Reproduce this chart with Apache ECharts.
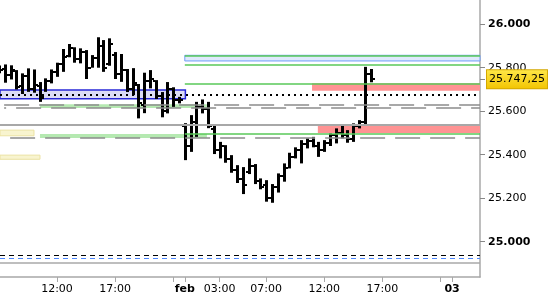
<!DOCTYPE html>
<html><head><meta charset="utf-8">
<script src="https://cdn.jsdelivr.net/npm/echarts@6/dist/echarts.min.js"></script>
<style>html,body{margin:0;padding:0;background:#fff}#c{width:550px;height:300px}</style>
</head><body><div id="c"></div>
<script>
// 30-minute bar slots (slot 0 = 12:00 of day 1)
const slots  = [-10,-9,-8,-7,-6,-5,-4,-3,-2,-1,0,1,2,3,4,5,6,7,8,9,10,11,12,13,14,15,16,17,18,19,20,21,22,23,24,25,26,27,28,29,30,31,32,33,34,35,36,37,38,39,40,41,42,43,44,45,46,47,48,49,50,51,52,53,54];
const opens  = [25800,25795,25765,25785,25715,25760,25700,25715,25665,25740,25780,25815,25855,25890,25840,25870,25800,25845,25900,25815,25860,25770,25790,25700,25720,25630,25740,25740,25670,25600,25700,25650,25530,25440,25550,25620,25610,25520,25420,25440,25380,25330,25290,25320,25350,25280,25260,25200,25250,25300,25340,25390,25420,25450,25465,25440,25420,25455,25490,25500,25490,25470,25530,25550,25770];
const highs  = [25810,25815,25811,25789,25774,25797,25792,25734,25751,25792,25823,25886,25909,25894,25889,25881,25858,25940,25927,25935,25872,25863,25794,25798,25725,25777,25789,25743,25688,25734,25710,25666,25545,25582,25643,25654,25643,25532,25459,25444,25398,25352,25343,25383,25357,25291,25283,25265,25314,25360,25409,25434,25467,25475,25482,25459,25467,25498,25521,25532,25513,25544,25559,25804,25794];
const lows   = [25775,25731,25746,25700,25679,25689,25685,25643,25689,25728,25758,25781,25848,25823,25820,25748,25800,25800,25781,25809,25748,25735,25688,25674,25567,25591,25705,25656,25572,25590,25620,25636,25375,25413,25482,25590,25522,25403,25383,25363,25317,25270,25219,25311,25265,25241,25184,25179,25226,25276,25337,25383,25360,25429,25434,25390,25413,25440,25452,25475,25455,25459,25521,25541,25733];
const closes = [25790,25765,25790,25710,25760,25700,25720,25660,25740,25780,25815,25850,25890,25840,25870,25800,25845,25900,25800,25910,25770,25790,25700,25730,25640,25740,25750,25670,25600,25700,25650,25650,25440,25550,25620,25610,25530,25420,25440,25380,25330,25290,25260,25350,25280,25250,25200,25250,25300,25340,25390,25420,25450,25465,25440,25420,25455,25490,25500,25490,25470,25530,25550,25770,25747.25];

const xTickSlots  = [0,10,20,22,28,36,46,56,66,68];
const xLabelSlots = [0,10,22,28,36,46,56,68];
const xLabels     = ['12:00','17:00','feb','03:00','07:00','12:00','17:00','03'];
const yTickValues = [25000,25200,25400,25600,25800,26000];
const lastPrice = 25747.25;

// price levels / zones
const blueZoneLeft   = [25657, 25697];
const lightBlueZone  = [25831, 25857];
const greenBandUpper = [25615, 25632];
const greenBandLower = [25477, 25495];
const yellowZone1    = [25487, 25513];
const yellowZone2    = [25379, 25398];
const redZoneUpper   = [25694, 25728];
const redZoneLower   = [25500, 25533];
const dottedLevel    = 25674;
const grayDashLevels = [25631, 25618, 25477];
const graySolidLevel = 25538;
const greenLevels    = [25856, 25815, 25728, 25498];
const lowDashBlack = 24936, lowDashBlue = 24925, paneBottom = 24901;

const X_MIN = -9.81, X_MAX = 72.81;
const FONT = 'DejaVu Sans';

function fmtThousands(v){ const s = String(Math.round(v)); return s.slice(0, s.length-3) + '.' + s.slice(-3); }
function fmtPrice(v){ const i = Math.floor(v); const d = Math.round((v - i)*100); return fmtThousands(i) + ',' + String(d).padStart(2,'0'); }

function renderOHLC(params, api){
  const x = api.value(0);
  const pO = api.coord([x, api.value(1)]);
  const pH = api.coord([x, api.value(2)]);
  const pL = api.coord([x, api.value(3)]);
  const pC = api.coord([x, api.value(4)]);
  const cx = Math.round(pH[0]);
  return {type:'group', children:[
    {type:'rect', shape:{x:cx-1, y:pH[1], width:3, height:Math.max(1, pL[1]-pH[1])}, style:{fill:'#000'}},
    {type:'rect', shape:{x:cx-3, y:Math.round(pO[1])-1, width:2, height:2}, style:{fill:'#000'}},
    {type:'rect', shape:{x:cx+2, y:Math.round(pC[1])-1, width:2, height:2}, style:{fill:'#000'}}
  ]};
}

function area(x1, x2, range, style){ return [{xAxis:x1, yAxis:range[0], itemStyle:style}, {xAxis:x2, yAxis:range[1]}]; }
function seg(x1, x2, y, style){ return [{coord:[x1, y], lineStyle:style}, {coord:[x2, y]}]; }

const green = {color:'#58c858', width:1.5, type:'solid'};
const grayDash = {color:'#8c8c8c', width:1.5, type:[25,10]};

const chart = echarts.init(document.getElementById('c'));
chart.setOption({
  animation:false,
  grid:{left:0, right:70, top:0, bottom:23},
  xAxis:{type:'value', min:X_MIN, max:X_MAX, splitLine:{show:false},
    axisLine:{onZero:false, lineStyle:{color:'#a8a8a8', width:1.5}},
    axisTick:{customValues:xTickSlots, length:5, lineStyle:{color:'#a8a8a8'}},
    axisLabel:{customValues:xLabelSlots, margin:7, color:'#000', fontFamily:FONT, fontSize:11,
      formatter:function(v){ const i = xLabelSlots.indexOf(Math.round(v)); const t = i>=0 ? xLabels[i] : ''; return (t==='feb'||t==='03') ? '{b|'+t+'}' : t; },
      rich:{b:{fontWeight:'bold', fontFamily:FONT, fontSize:11, color:'#000'}}}
  },
  yAxis:{type:'value', position:'right', min:24837.7, max:26111.3, splitLine:{show:false},
    axisLine:{show:true, onZero:false, lineStyle:{color:'#a8a8a8', width:1.5}},
    axisTick:{show:true, customValues:yTickValues.concat([lastPrice]), length:5, lineStyle:{color:'#888'}},
    axisLabel:{customValues:yTickValues, margin:8, color:'#000', fontFamily:FONT, fontSize:11,
      formatter:function(v){ const t = fmtThousands(v); return (v===25000||v===26000) ? '{b|'+t+'}' : t; },
      rich:{b:{fontWeight:'bold', fontFamily:FONT, fontSize:11, color:'#000'}}}
  },
  series:[
    {type:'line', data:[], z:1, silent:true,
      markArea:{silent:true, label:{show:false}, data:[
        area(X_MIN, 22.1, blueZoneLeft, {color:'#dcdcf5', borderColor:'#2828d8', borderWidth:1.5}),
        area(22.0, X_MAX, lightBlueZone, {color:'#dfe9fd', borderColor:'#6f9ef7', borderWidth:1}),
        area(-2.93, 25.8, greenBandUpper, {color:'#b5e9b1'}),
        area(-2.93, 25.8, greenBandLower, {color:'#b5e9b1'}),
        area(X_MIN, -3.96, yellowZone1, {color:'#f8f4cf', borderColor:'#ebe2a2', borderWidth:1}),
        area(X_MIN, -2.93, yellowZone2, {color:'#f8f4cf', borderColor:'#ebe2a2', borderWidth:1}),
        area(43.9, X_MAX, redZoneUpper, {color:'#ff9393'}),
        area(44.9, X_MAX, redZoneLower, {color:'#ff9393'})
      ]}
    },
    {type:'line', data:[], z:2, silent:true,
      markLine:{silent:true, symbol:'none', label:{show:false}, data:[
        seg(X_MIN, X_MAX, dottedLevel, {color:'#000', width:2, type:[2,4]}),
        seg(-9.1, X_MAX, grayDashLevels[0], Object.assign({}, grayDash, {dashOffset:0})),
        seg(-9.1, X_MAX, grayDashLevels[1], Object.assign({}, grayDash, {dashOffset:-12})),
        seg(-9.1, X_MAX, grayDashLevels[2], Object.assign({}, grayDash, {dashOffset:-6})),
        seg(X_MIN, X_MAX, graySolidLevel, {color:'#a8a8a8', width:2, type:'solid'}),
        seg(22.0, X_MAX, greenLevels[0], green),
        seg(22.0, X_MAX, greenLevels[1], green),
        seg(22.0, X_MAX, greenLevels[2], green),
        seg(22.0, X_MAX, greenLevels[3], green),
        seg(X_MIN, X_MAX, lowDashBlack, {color:'#000', width:1, type:[5,4]}),
        seg(X_MIN, X_MAX, lowDashBlue, {color:'#4d88ff', width:1, type:[5,4]}),
        seg(X_MIN, X_MAX, paneBottom, {color:'#a8a8a8', width:1.5, type:'solid'})
      ]}
    },
    {type:'custom', z:3, clip:true, silent:true, renderItem:renderOHLC, encode:{x:0, y:[1,2,3,4]},
      data: slots.map((s,i)=>[s, opens[i], highs[i], lows[i], closes[i]])
    },
    {type:'line', data:[], z:5, clip:false, silent:true,
      markLine:{silent:true, symbol:'none', lineStyle:{color:'rgba(0,0,0,0)', width:1},
        data:[{yAxis:lastPrice}],
        label:{show:true, position:'end', distance:7, formatter:function(){ return fmtPrice(lastPrice); },
          color:'#000', fontFamily:FONT, fontSize:11, padding:[4,2,3,2], borderColor:'#d4a800', borderWidth:1,
          backgroundColor:new echarts.graphic.LinearGradient(0,0,0,1,[{offset:0,color:'#ffe84a'},{offset:1,color:'#f2c400'}])}
      }
    }
  ]
});
</script></body></html>
